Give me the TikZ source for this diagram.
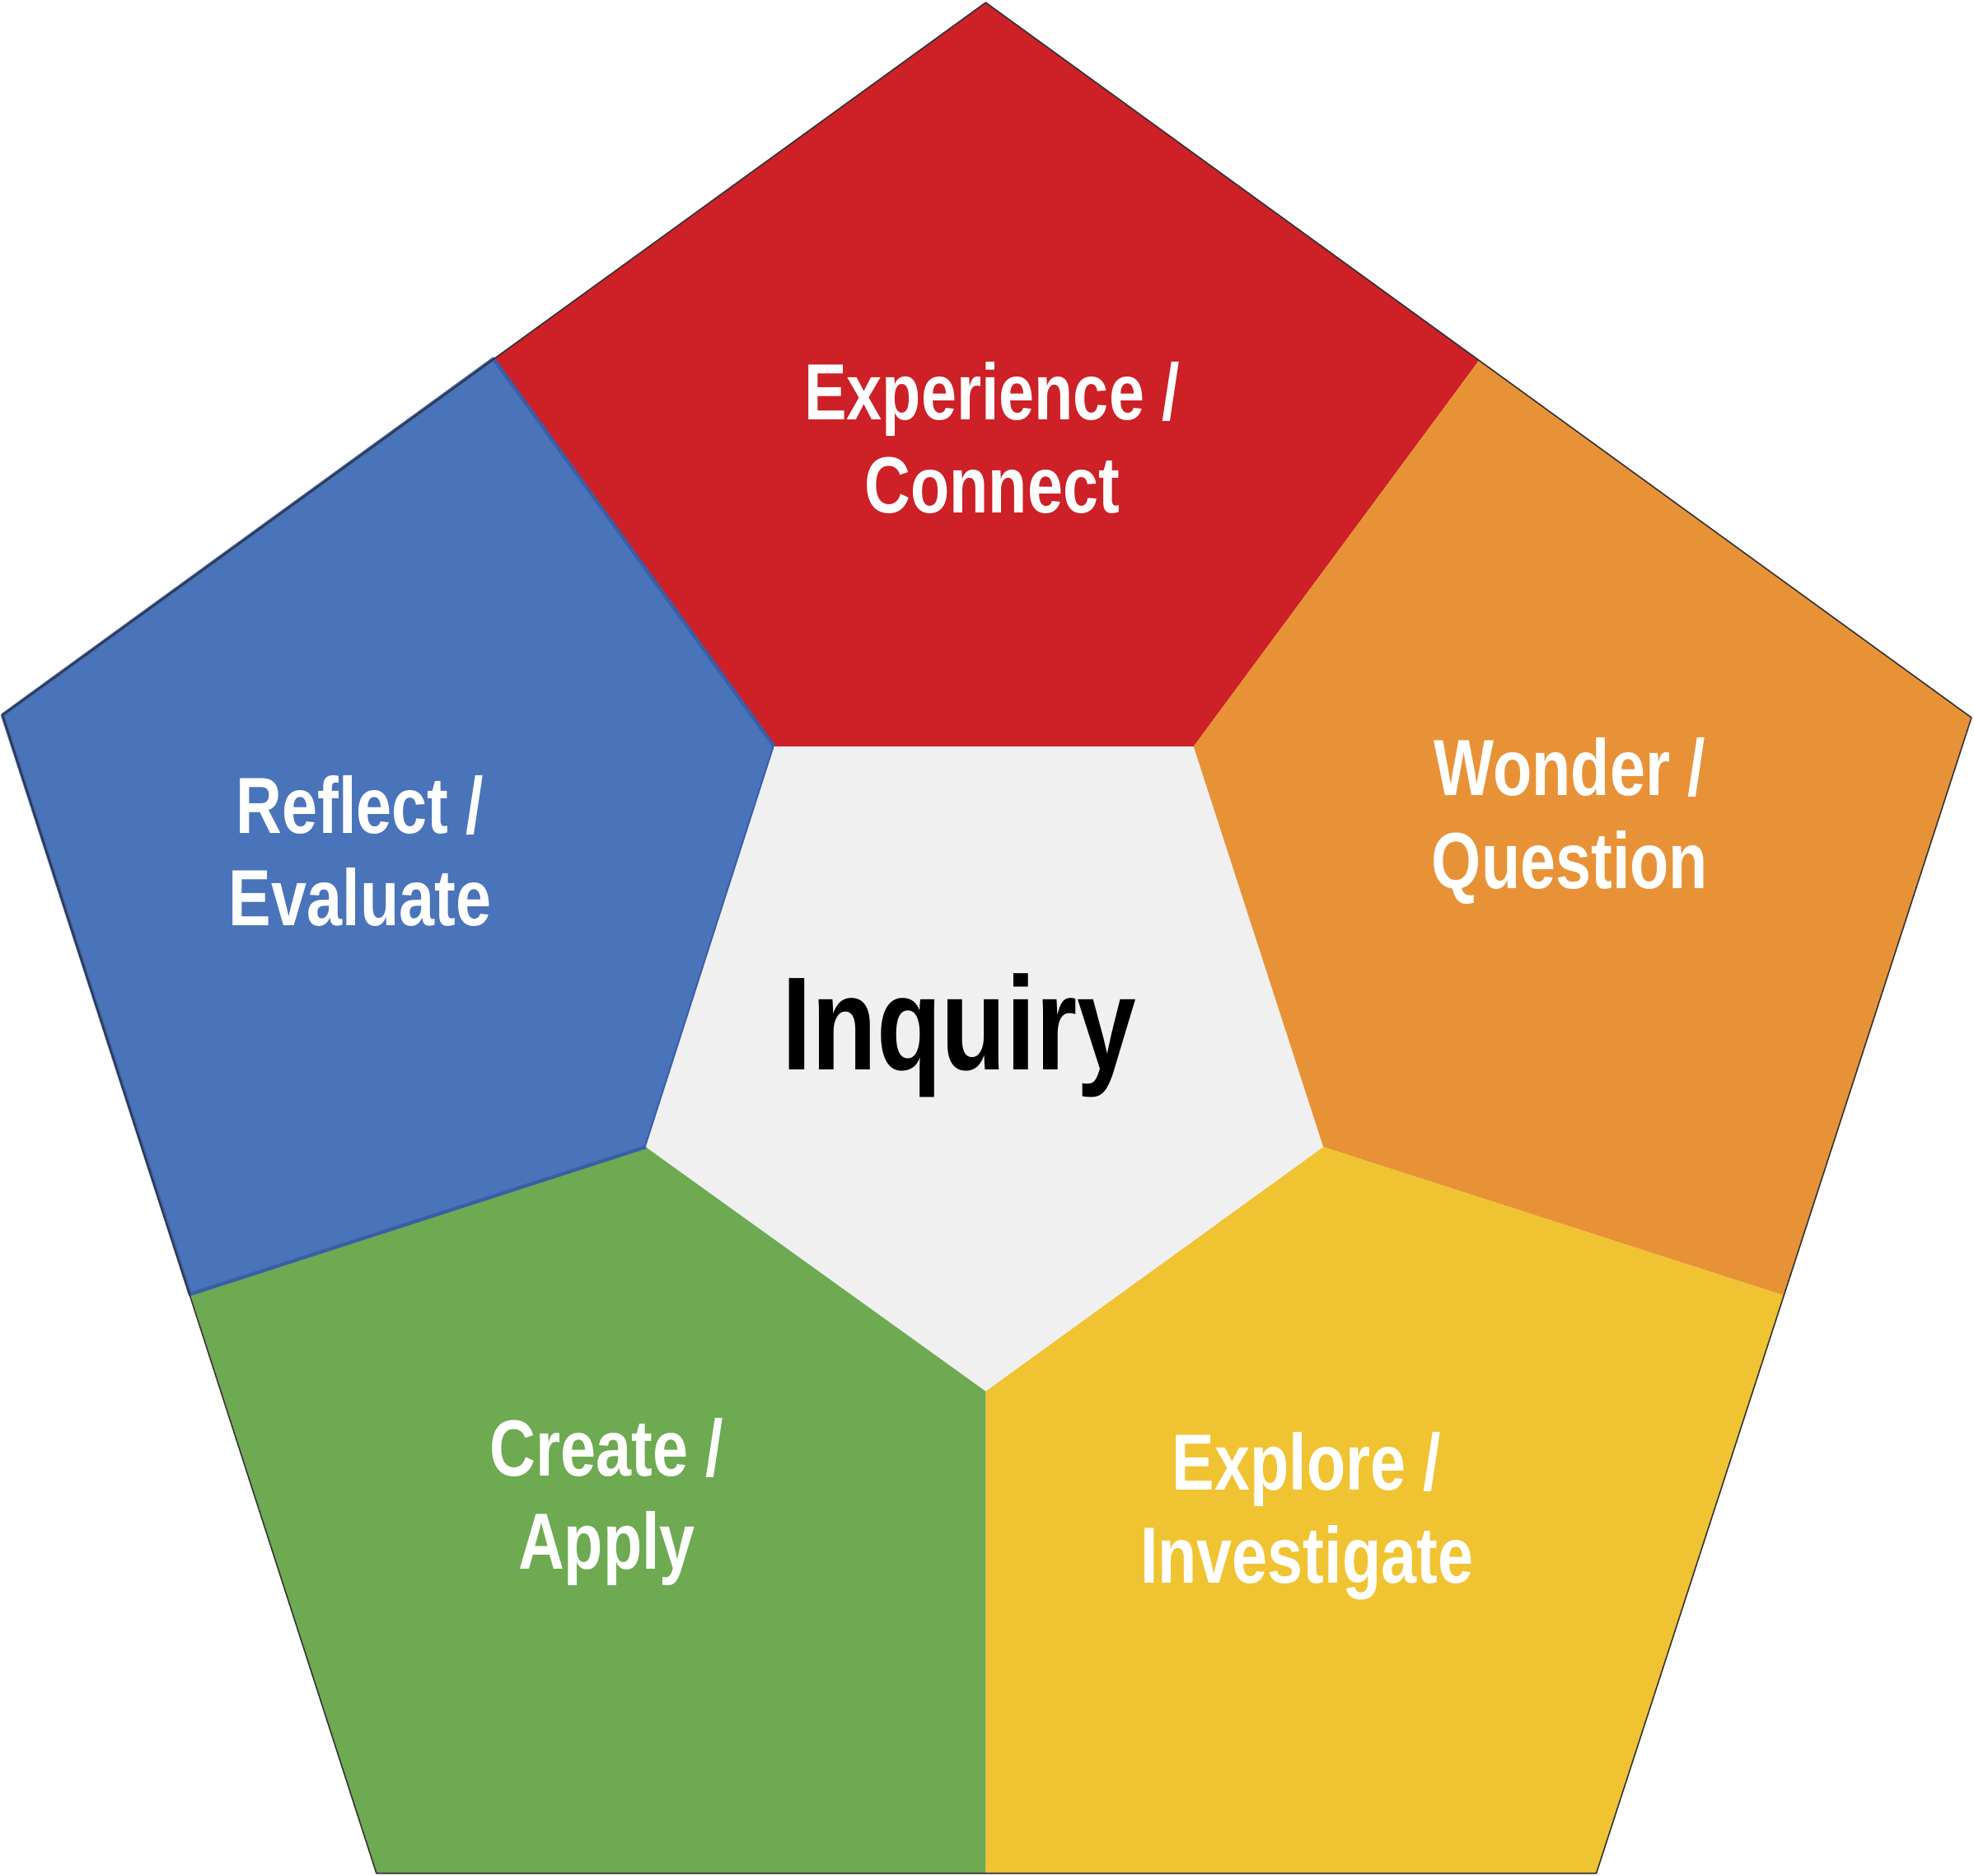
\documentclass[tikz,border=0pt]{standalone}
\usepackage{fontspec}
\setmainfont{Liberation Sans}
\newfontfamily\cyclefont[FakeStretch=0.8]{Liberation Sans}
\usepackage{tikz}

\definecolor{expred}{HTML}{CD2027}
\definecolor{wonorange}{HTML}{E89237}
\definecolor{expyellow}{HTML}{F0C332}
\definecolor{crgreen}{HTML}{6DAA51}
\definecolor{refblue}{HTML}{4A74B9}
\definecolor{refedge}{HTML}{3A5EA8}
\definecolor{hubgray}{HTML}{F0F0F0}

\tikzset{
  stage/.style={text=white, align=center, inner sep=0pt,
    font=\cyclefont\bfseries\fontsize{18}{21}\selectfont},
}

\begin{document}
\begin{tikzpicture}[x=0.01cm, y=-0.01cm]
\useasboundingbox (0,0) rectangle (1568,1490);
% outer corners
\coordinate (top) at (783,2);
\coordinate (right) at (1566,570);
\coordinate (bright) at (1268,1488);
\coordinate (bleft) at (299,1488);
\coordinate (left) at (2,568);
% outer edge midpoints
\coordinate (mtl) at (392,285);
\coordinate (mtr) at (1175,286);
\coordinate (mr) at (1417,1029);
\coordinate (mb) at (783,1488);
\coordinate (ml) at (151,1028);
% inner pentagon
\coordinate (itl) at (615,593);
\coordinate (itr) at (948,593);
\coordinate (ir) at (1051,911);
\coordinate (ib) at (783,1105);
\coordinate (il) at (513,911);

\fill[expred] (mtl) -- (top) -- (mtr) -- (itr) -- (itl) -- cycle;
\fill[wonorange] (mtr) -- (right) -- (mr) -- (ir) -- (itr) -- cycle;
\fill[expyellow] (mr) -- (bright) -- (mb) -- (ib) -- (ir) -- cycle;
\fill[crgreen] (mb) -- (bleft) -- (ml) -- (il) -- (ib) -- cycle;
\filldraw[fill=refblue, draw=refedge, line width=0.8pt, line join=round] (ml) -- (left) -- (mtl) -- (itl) -- (il) -- cycle;
\fill[hubgray] (itl) -- (itr) -- (ir) -- (ib) -- (il) -- cycle;
\draw[black!80, line width=0.3pt, line join=round] (top) -- (right) -- (bright) -- (bleft) -- (left) -- cycle;

\node[stage] (experience) at (788,348) {Experience /\\Connect};
\node[stage] (wonder) at (1247,652) {Wonder /\\Question};
\node[stage] (explore) at (1038,1204) {Explore /\\Investigate};
\node[stage] (create) at (482,1193) {Create /\\Apply};
\node[stage] (reflect) at (286,676) {Reflect /\\Evaluate};
\node[anchor=base, inner sep=0pt, font=\cyclefont\bfseries\fontsize{30}{36}\selectfont] (inquiry) at (762,850) {Inquiry};
\end{tikzpicture}
\end{document}
